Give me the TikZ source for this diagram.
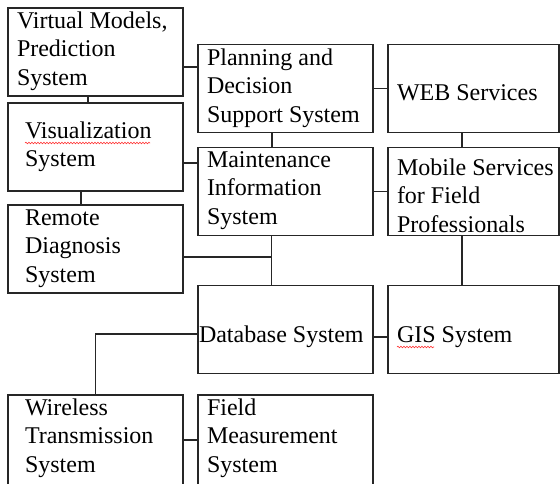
\documentclass[tikz,border=0pt]{standalone}
\usepackage{fontspec}
\setmainfont{Liberation Serif}
\usetikzlibrary{decorations.pathmorphing}
\newcommand\mylines[1]{\begin{tabular}[t]{@{}l@{}}#1\end{tabular}}
\begin{document}
\begin{tikzpicture}[x=1pt,y=-1pt,
  box/.style={draw=black!85, line width=1.2pt, inner sep=0pt, outer sep=0pt, minimum height=88pt},
  lbox/.style={box, minimum width=175pt},
  rbox/.style={box, minimum width=171pt},
  txt/.style={inner sep=0pt, outer sep=0pt, anchor=base west, font=\fontsize{24}{28.5}\selectfont},
  conn/.style={draw=black!85, line width=1.2pt},
  squig/.style={draw=red!80, line width=0.6pt, decorate, decoration={snake, amplitude=0.8pt, segment length=3pt}}]
\useasboundingbox (0,0) rectangle (560,483);
\fill[white] (0,0) rectangle (560,483);
% boxes
\node[lbox] (vm) at (95.5,52) {};
\node[lbox] (vis) at (95.5,147) {};
\node[lbox] (remote) at (95.5,249) {};
\node[lbox] (plan) at (285.5,88.5) {};
\node[lbox] (maint) at (285.5,191.5) {};
\node[rbox] (web) at (473.5,88.5) {};
\node[rbox] (mobile) at (473.5,191.5) {};
\node[lbox] (db) at (285.5,329.5) {};
\node[rbox] (gis) at (473.5,329.5) {};
\node[lbox, minimum height=90pt] (wl) at (95.5,440) {};
\node[lbox, minimum height=90pt] (field) at (285.5,440) {};
% texts
\node[txt] (tvm) at (17,28) {\mylines{Virtual Models,\\Prediction\\System}};
\node[txt] (tvis) at (25,138) {\mylines{Visualization\\System}};
\node[txt] (tremote) at (25,225) {\mylines{Remote\\Diagnosis\\System}};
\node[txt] (tplan) at (207,65) {\mylines{Planning and\\Decision\\Support System}};
\node[txt] (tmaint) at (207,167) {\mylines{Maintenance\\Information\\System}};
\node[txt] (tweb) at (397,100) {WEB Services};
\node[txt] (tmobile) at (397,175) {\mylines{Mobile Services\\for Field\\Professionals}};
\node[txt] (tdb) at (199,342) {Database System};
\node[txt] (tgis) at (397,342) {GIS System};
\node[txt] (twl) at (25,415) {\mylines{Wireless\\Transmission\\System}};
\node[txt] (tfield) at (207,415) {\mylines{Field\\Measurement\\System}};
% spell-check marks
\draw[squig] (25,143) -- (150,143);
\draw[squig] (397,347) -- (434,347);
% connectors
\draw[conn] ([xshift=-7.5pt]vm.south) -- ([xshift=-7.5pt]vis.north);
\draw[conn] ([yshift=-15pt]vm.east) -- ([yshift=-15pt]vm.east -| plan.west);
\draw[conn] (plan.east) -- (web.west);
\draw[conn] ([xshift=-13.5pt]plan.south) -- ([xshift=-13.5pt]maint.north);
\draw[conn] ([yshift=-16pt]vis.east) -- ([yshift=-16pt]vis.east -| maint.west);
\draw[conn] ([xshift=-14.5pt]vis.south) -- ([xshift=-14.5pt]remote.north);
\draw[conn] (maint.east) -- (mobile.west);
\draw[conn] ([xshift=-11.5pt]web.south) -- ([xshift=-11.5pt]mobile.north);
\draw[conn] ([xshift=-11.5pt]mobile.south) -- ([xshift=-11.5pt]gis.north);
\coordinate (dbj) at ([xshift=-14pt]db.north);
\coordinate (rej) at ([yshift=-8pt]remote.east);
\draw[conn] ([xshift=-14pt]maint.south) -- (dbj);
\draw[conn] (rej) -- (rej -| dbj);
\draw[conn] ([yshift=-4.5pt]db.west) -| (wl.north);
\draw[conn] ([yshift=-7.5pt]db.east) -- ([yshift=-7.5pt]db.east -| gis.west);
\draw[conn] (wl.east) -- (wl.east -| field.west);
\end{tikzpicture}
\end{document}
